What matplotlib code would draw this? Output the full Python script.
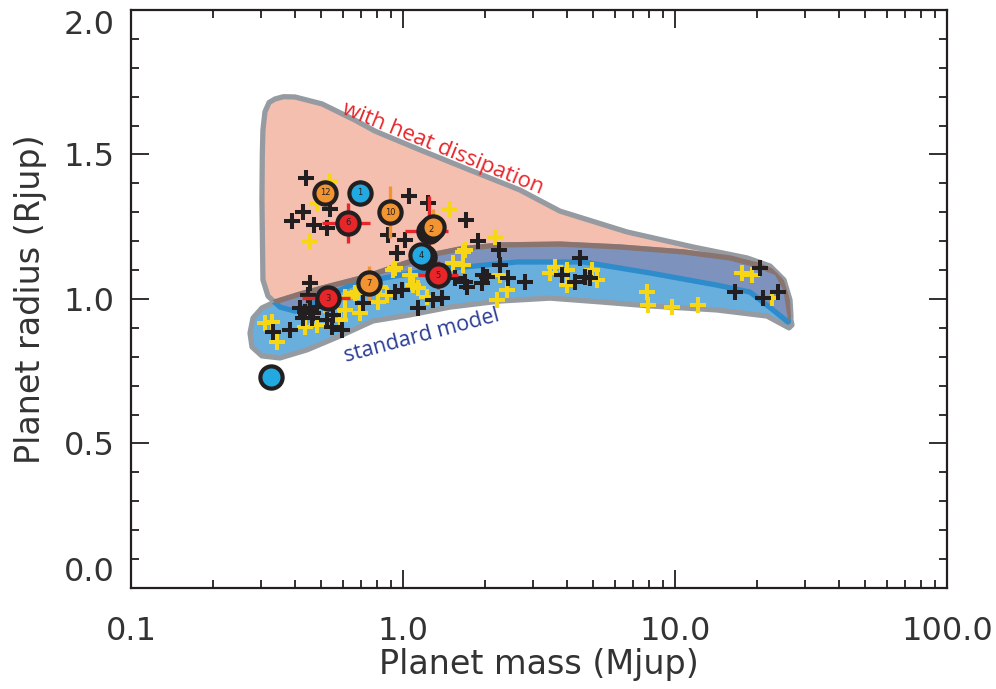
import numpy as np
import matplotlib
matplotlib.use("Agg")
import matplotlib.pyplot as plt
from matplotlib.patches import Polygon

# ---------------- data ----------------
# model regions (mass [Mjup], radius [Rjup])
heat_mass = [0.3040, 0.3056, 0.3109, 0.3220, 0.3384, 0.3640, 0.4008, 0.5037, 0.6661, 0.7888,
             1.155, 1.763, 2.692, 3.777, 6.661, 11.65, 18.40, 22.36, 25.16, 26.47, 26.70,
             26.03, 22.93, 18.87, 14.27, 8.09, 4.590, 2.625, 1.839, 1.257, 0.896, 0.666,
             0.4953, 0.4008, 0.3530, 0.3190, 0.3056, 0.3030]
heat_rad = [1.500, 1.585, 1.648, 1.680, 1.692, 1.700, 1.699, 1.675, 1.619, 1.581,
            1.516, 1.446, 1.377, 1.304, 1.232, 1.180, 1.142, 1.114, 1.066, 0.997, 0.938,
            0.920, 0.962, 1.024, 1.048, 1.090, 1.128, 1.128, 1.114, 1.100, 1.076, 1.055,
            0.997, 0.958, 0.972, 1.010, 1.066, 1.343]

std_mass = [0.2739, 0.2809, 0.3030, 0.3384, 0.4182, 0.5390, 0.7248, 0.9749, 1.257, 1.620,
            2.273, 3.777, 6.279, 10.70, 15.93, 20.02, 23.71, 25.59, 26.25, 26.92,
            26.25, 21.79, 14.27, 8.09, 5.302, 3.471, 2.273, 1.489, 1.061, 0.7757,
            0.5866, 0.4436, 0.3530, 0.3030, 0.2786]
std_rad = [0.882, 0.934, 0.969, 0.990, 1.017, 1.045, 1.076, 1.118, 1.152, 1.173,
           1.187, 1.190, 1.180, 1.163, 1.142, 1.118, 1.090, 1.031, 0.962, 0.910,
           0.900, 0.941, 0.962, 0.976, 0.990, 1.003, 0.993, 0.972, 0.945, 0.924,
           0.872, 0.824, 0.796, 0.803, 0.834]

# known planets, black crosses
black_mass = [0.44, 0.54, 0.43, 0.39, 0.47, 0.525, 1.05, 1.24, 1.71, 0.88, 1.02, 1.89,
              0.95, 2.25, 2.27, 0.455, 0.448, 0.418, 0.436, 0.455, 0.467, 0.483, 0.429,
              0.463, 0.525, 0.553, 0.548, 0.597, 0.333, 0.384, 0.713, 0.935, 0.99,
              1.135, 1.29, 1.39, 1.55, 1.69, 1.72, 1.97, 1.95, 2.43, 2.81, 3.84, 4.48,
              4.29, 4.67, 4.87, 20.5, 16.6, 21.1, 23.9, 2.04]
black_rad = [1.42, 1.31, 1.30, 1.27, 1.256, 1.246, 1.356, 1.332, 1.273, 1.221, 1.204, 1.201,
             1.159, 1.170, 1.118, 1.055, 1.014, 0.969, 0.955, 0.969, 0.952, 0.972, 0.934,
             0.934, 0.927, 0.945, 0.903, 0.893, 0.886, 0.893, 0.986, 1.024, 1.031,
             0.969, 0.997, 1.003, 1.073, 1.059, 1.042, 1.083, 1.055, 1.073, 1.059, 1.083,
             1.142, 1.059, 1.076, 1.073, 1.107, 1.024, 1.003, 1.024, 1.076]

# known planets, yellow crosses
yellow_mass = [0.54, 0.483, 0.455, 1.49, 2.18, 1.69, 1.33, 0.92, 1.06, 1.53, 1.66, 2.27,
               2.41, 2.22, 3.62, 3.47, 4.01, 4.01, 4.96, 5.17, 7.89, 7.96, 9.75, 12.15,
               17.6, 19.2, 22.7, 0.33, 0.344, 0.311, 0.436, 0.483, 0.587, 0.612, 0.612,
               0.667, 0.517, 0.695, 0.823, 0.873, 0.809, 1.088, 1.225, 0.935, 0.684,
               1.135, 1.66]
yellow_rad = [1.41, 1.33, 1.20, 1.31, 1.215, 1.17, 1.266, 1.10, 1.083, 1.125, 1.118, 1.083,
              1.031, 0.997, 1.111, 1.090, 1.100, 1.048, 1.100, 1.066, 1.024, 0.979, 0.972,
              0.979, 1.090, 1.083, 1.003, 0.920, 0.851, 0.917, 0.903, 0.910, 0.927, 0.962,
              1.007, 1.021, 0.979, 0.952, 1.042, 1.014, 0.990, 1.048, 1.007, 1.107, 1.024,
              1.038, 1.163]

# highlighted planets with error bars
hl_mass = [0.327, 0.517, 0.695, 0.628, 0.896, 1.25, 1.268, 1.29, 1.19, 1.164, 1.345, 0.750, 0.530]
hl_rad = [0.730, 1.367, 1.367, 1.263, 1.301, 1.235, 1.242, 1.250, 1.145, 1.152, 1.083, 1.055, 1.003]
hl_mass_lo = [0.313, 0.517, 0.695, 0.504, 0.896, 1.017, 1.268, 1.29, 1.19, 1.164, 1.135, 0.750, 0.425]
hl_mass_hi = [0.341, 0.517, 0.695, 0.756, 0.896, 1.464, 1.268, 1.29, 1.19, 1.164, 1.593, 0.750, 0.638]
hl_rad_err = [0.02, 0.0, 0.045, 0.07, 0.09, 0.12, 0.0, 0.06, 0.0, 0.0, 0.05, 0.06, 0.035]
hl_color = ["#22a9e1", "#f29431", "#22a9e1", "#e8262a", "#f29431", "#e8262a", "#f29431",
            "#f29431", "#e8262a", "#22a9e1", "#e8262a", "#f29431", "#e8262a"]
hl_label = ["", "12", "1", "6", "10", "", "2", "", "", "4", "5", "7", "3"]

x_ticks = [0.1, 1.0, 10.0, 100.0]
x_ticklabels = ["0.1", "1.0", "10.0", "100.0"]
y_ticks = [0.0, 0.5, 1.0, 1.5, 2.0]
y_ticklabels = ["0.0", "0.5", "1.0", "1.5", "2.0"]

# ---------------- figure ----------------
plt.rcParams['font.family'] = ['DejaVu Sans']
fig = plt.figure(figsize=(9.96, 6.89), dpi=100)
ax = fig.add_axes([0.1315, 0.1466, 0.8193, 0.8389])
ax.set_xscale("log")
ax.set_xlim(0.1, 100)
ax.set_ylim(0, 2.0)

GRAY = "#969ba2"
PINK = "#f5bfb0"
LBLUE = "#69afde"
OVER = "#7d93bd"
DBLUE = "#2f8ccb"
BROWN = "#8a746f"

heat_xy = np.column_stack([heat_mass, heat_rad])
std_xy = np.column_stack([std_mass, std_rad])

p_heat = Polygon(heat_xy, closed=True, facecolor=PINK, edgecolor=GRAY, lw=3.8,
                 joinstyle="round", zorder=1)
ax.add_patch(p_heat)
p_std = Polygon(std_xy, closed=True, facecolor=LBLUE, edgecolor=GRAY, lw=3.8,
                joinstyle="round", zorder=2)
ax.add_patch(p_std)
# overlap of the two regions
p_over = Polygon(heat_xy, closed=True, facecolor=OVER, edgecolor=DBLUE, lw=3.8,
                 joinstyle="round", zorder=3)
ax.add_patch(p_over)
p_over.set_clip_path(p_std)
# upper border of standard region seen through the heat region
p_brown = Polygon(std_xy, closed=True, facecolor="none", edgecolor=BROWN, lw=3.8,
                  joinstyle="round", zorder=4)
ax.add_patch(p_brown)
p_brown.set_clip_path(p_heat)

# crosses
ax.plot(yellow_mass, yellow_rad, linestyle="none", marker="+", ms=12, mew=2.9,
        color="#f7d616", zorder=5)
ax.plot(black_mass, black_rad, linestyle="none", marker="+", ms=12, mew=2.9,
        color="#231f20", zorder=6)

# highlighted planets
for m, r, lo, hi, re, c, lab in zip(hl_mass, hl_rad, hl_mass_lo, hl_mass_hi,
                                    hl_rad_err, hl_color, hl_label):
    ax.errorbar([m], [r], xerr=[[m - lo], [hi - m]], yerr=[[re], [re]], fmt="none",
                ecolor=c, elinewidth=2.4, capsize=0, zorder=7)
    ax.plot([m], [r], linestyle="none", marker="o", ms=16, mfc=c, mec="#231f20",
            mew=3.0, zorder=8)
    if lab:
        ax.text(m, r, lab, fontsize=6, ha="center", va="center", color="#231f20",
                zorder=9)

# annotations
ax.text(1.40, 1.52, "with heat dissipation", rotation=-22, color="#e8262a",
        fontsize=16, ha="center", va="center", family=["Open Sans", "DejaVu Sans"],
        zorder=10)
ax.text(1.17, 0.872, "standard model", rotation=15, color="#2b3d94",
        fontsize=15.5, ha="center", va="center", family=["Open Sans", "DejaVu Sans"],
        zorder=10)

# axes styling
ax.set_xticks(x_ticks)
ax.set_xticklabels(x_ticklabels)
ax.set_yticks(y_ticks)
ax.set_yticklabels(y_ticklabels)
ax.set_yticks(np.arange(0, 2.01, 0.1), minor=True)
ax.tick_params(which="both", direction="in", top=True, right=True, color="#231f20",
               width=1.3, labelcolor="#333333")
ax.tick_params(which="major", length=13, labelsize=23)
ax.tick_params(which="minor", length=6)
ax.tick_params(axis="x", which="major", pad=20)
ax.tick_params(axis="y", which="major", pad=12)
ylabs = ax.get_yticklabels()
ylabs[0].set_va("bottom")
ylabs[-1].set_va("top")
for s in ax.spines.values():
    s.set_linewidth(1.6)
    s.set_color("#231f20")
ax.set_xlabel("Planet mass (Mjup)", fontsize=24, color="#333333", labelpad=1)
ax.set_ylabel("Planet radius (Rjup)", fontsize=24, color="#333333", labelpad=12)

fig.savefig("out.png", dpi=100)
